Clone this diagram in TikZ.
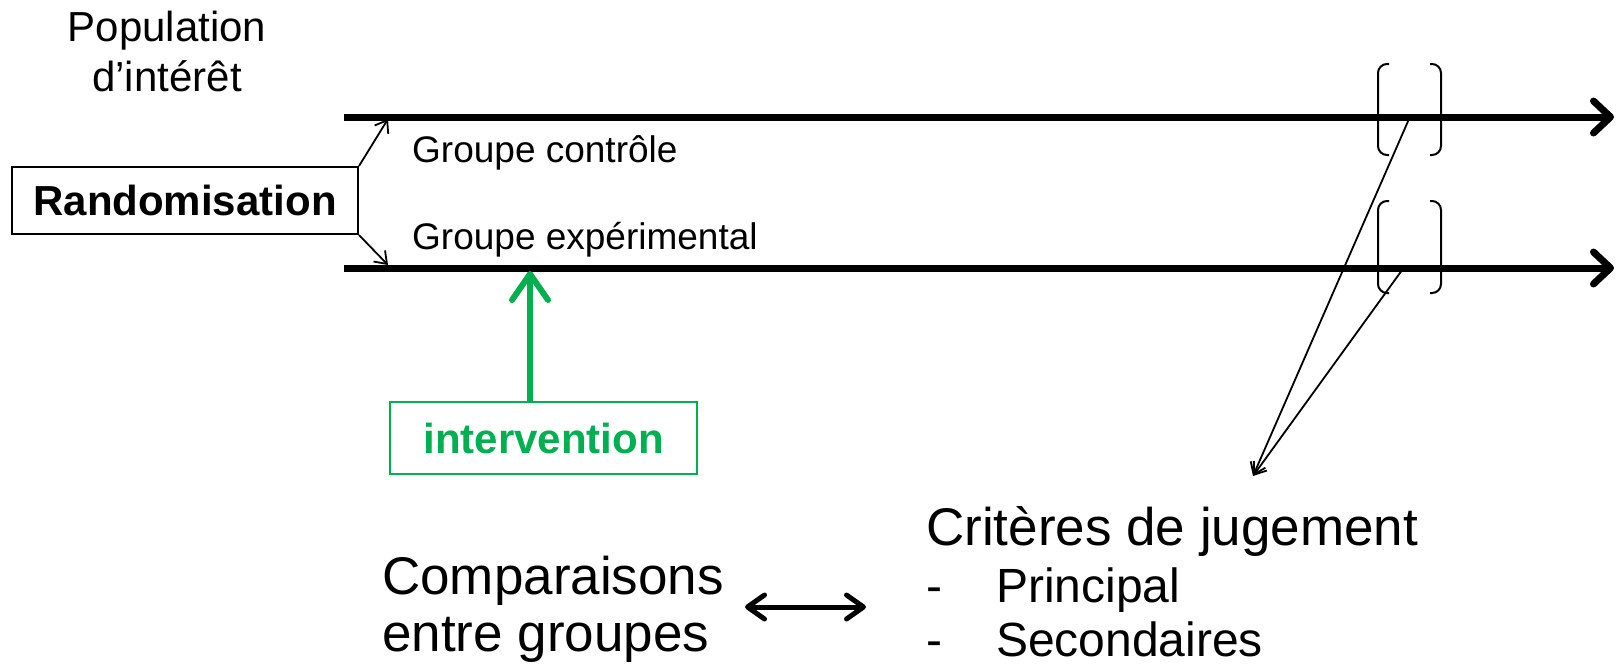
\documentclass[tikz,border=0pt]{standalone}
\usepackage{fontspec}
\setmainfont{Liberation Sans}
\usetikzlibrary{arrows.meta}
\definecolor{offgreen}{RGB}{0,176,80}
\tikzset{
  txt/.style={inner sep=0pt, anchor=base west},
  thickline/.style={line width=7pt, -{Straight Barb[length=17pt,width=32pt,round]}},
  thinarrow/.style={line width=1.8pt, -{Straight Barb[length=11pt,width=16pt]}},
  bracketline/.style={line width=2pt, rounded corners=9pt},
}
\begin{document}
\begin{tikzpicture}[x=1pt,y=-1pt]
\useasboundingbox (0,0) rectangle (1618,665);
% population
\node[inner sep=0pt, anchor=base, font=\fontsize{42}{50}\selectfont] (pop1) at (167,41) {Population};
\node[inner sep=0pt, anchor=base, font=\fontsize{42}{50}\selectfont] (pop2) at (167,91) {d’intérêt};
% randomisation box
\node[draw, line width=2pt, minimum width=346pt, minimum height=67pt, inner sep=0pt,
      font=\fontsize{42}{50}\selectfont\bfseries] (rand) at (185,200.5) {Randomisation};
% timelines
\coordinate (c0) at (344,117);
\coordinate (c1) at (1614,117);
\coordinate (e0) at (344,268);
\coordinate (e1) at (1614,268);
\draw[thickline] (c0) -- (c1);
\draw[thickline] (e0) -- (e1);
\coordinate (ctip) at (388,119);
\coordinate (etip) at (388,265);
\draw[thinarrow] (rand.north east) -- (ctip);
\draw[thinarrow] (rand.south east) -- (etip);
% group labels
\node[txt, font=\fontsize{37}{44}\selectfont] (gc) at (412,162) {Groupe contrôle};
\node[txt, font=\fontsize{37}{44}\selectfont] (ge) at (412,249) {Groupe expérimental};
% intervention
\node[draw=offgreen, line width=2pt, minimum width=307pt, minimum height=72pt, inner sep=0pt,
      text=offgreen, font=\fontsize{42}{50}\selectfont\bfseries] (int) at (543.5,438) {intervention};
\coordinate (itip) at (530,271);
\draw[offgreen, line width=6pt, -{Straight Barb[length=26pt,width=36pt,round]}] (int.north -| itip) -- (itip);
% brackets
\draw[bracketline] (1389,64) -- (1378,64) -- (1378,155) -- (1389,155);
\draw[bracketline] (1430,64) -- (1441,64) -- (1441,155) -- (1430,155);
\draw[bracketline] (1389,201) -- (1378,201) -- (1378,293) -- (1389,293);
\draw[bracketline] (1430,201) -- (1441,201) -- (1441,293) -- (1430,293);
% converging arrows
\coordinate (b1) at (1409,119);
\coordinate (b2) at (1405,266);
\coordinate (crit) at (1253,476);
\draw[thinarrow] (b1) -- (crit);
\draw[thinarrow] (b2) -- (crit);
% bottom texts
\node[txt, font=\fontsize{53}{60}\selectfont] (crt) at (926,545) {Critères de jugement};
\node[txt, font=\fontsize{48}{56}\selectfont] (d1) at (926,602) {-};
\node[txt, font=\fontsize{48}{56}\selectfont] (pr) at (996,602) {Principal};
\node[txt, font=\fontsize{48}{56}\selectfont] (d2) at (926,656) {-};
\node[txt, font=\fontsize{48}{56}\selectfont] (sc) at (996,656) {Secondaires};
\node[txt, font=\fontsize{53}{60}\selectfont] (cmp1) at (382,594) {Comparaisons};
\node[txt, font=\fontsize{53}{60}\selectfont] (cmp2) at (382,651) {entre groupes};
\coordinate (da) at (745,607);
\coordinate (db) at (866,607);
\draw[line width=5pt, {Straight Barb[length=17pt,width=24pt,round]}-{Straight Barb[length=17pt,width=24pt,round]}] (da) -- (db);
\end{tikzpicture}
\end{document}
